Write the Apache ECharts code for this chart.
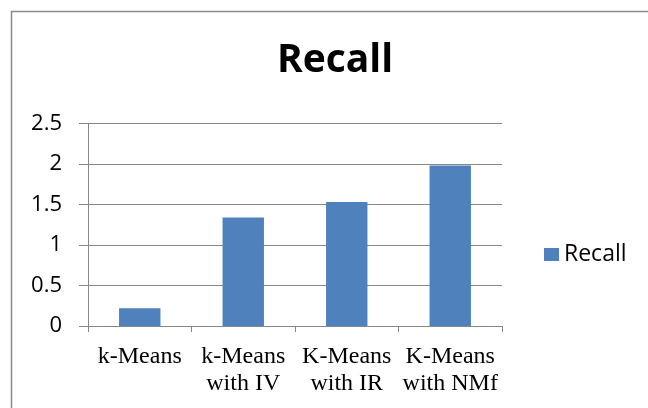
<!DOCTYPE html>
<html>
<head>
<meta charset="utf-8">
<script src="https://cdn.jsdelivr.net/npm/echarts@6/dist/echarts.min.js"></script>
<style>
  html, body { margin: 0; padding: 0; background: #fff; }
  #chart { width: 648px; height: 408px; }
</style>
</head>
<body>
<div id="chart"></div>
<script>
// Recall scores per clustering method
const categories = ['k-Means', 'k-Means\nwith IV', 'K-Means\nwith IR', 'K-Means\nwith NMf'];
const recall = [0.22, 1.34, 1.53, 1.98];
const seriesName = 'Recall';
const yMin = 0, yMax = 2.5, yStep = 0.5;

const chart = echarts.init(document.getElementById('chart'));
const gray = '#878787';

chart.setOption({
  backgroundColor: '#fff',
  animation: false,
  title: {
    text: 'Recall',
    left: 330, top: 36,
    textAlign: 'center',
    textStyle: { fontFamily: 'Open Sans', fontWeight: 'bold', fontSize: 39, color: '#000' }
  },
  legend: {
    data: [seriesName],
    left: 544, top: 243, padding: 0,
    icon: 'rect', itemWidth: 15, itemHeight: 13, itemGap: 7,
    textStyle: { fontFamily: 'Open Sans', fontSize: 23, color: '#000', padding: [0, 0, 0, 0] }
  },
  graphic: [{
    type: 'rect',
    shape: { x: 11.5, y: 11.5, width: 700, height: 500 },
    style: { fill: 'none', stroke: '#8a8a8a', lineWidth: 1.5 },
    silent: true
  }],
  grid: { left: 88, right: 146, top: 123.5, bottom: 82 },
  xAxis: {
    type: 'category',
    data: categories,
    axisLine: { lineStyle: { color: gray, width: 1 } },
    axisTick: { show: true, length: 6, lineStyle: { color: gray } },
    axisLabel: {
      fontFamily: 'Liberation Serif', fontSize: 24, color: '#000',
      lineHeight: 27, margin: 17, interval: 0
    }
  },
  yAxis: {
    type: 'value',
    min: yMin, max: yMax, interval: yStep,
    axisLine: { show: true, lineStyle: { color: gray, width: 1 } },
    axisTick: { show: true, length: 9, lineStyle: { color: gray } },
    splitLine: { lineStyle: { color: gray, width: 1 } },
    axisLabel: { fontFamily: 'Open Sans', fontSize: 22, color: '#000', margin: 26 }
  },
  series: [{
    name: seriesName,
    type: 'bar',
    data: recall,
    barCategoryGap: '60%',
    itemStyle: { color: '#4F81BD' }
  }]
});
</script>
</body>
</html>
